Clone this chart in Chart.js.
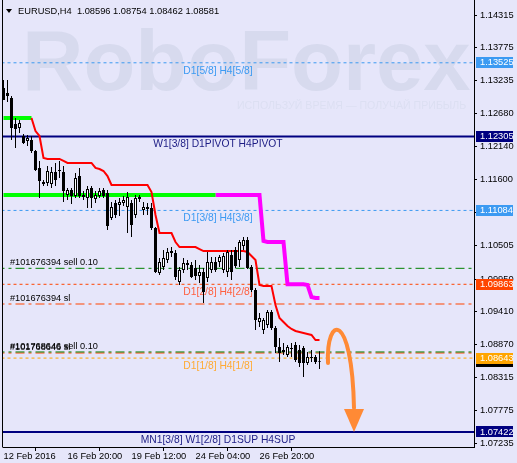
<!DOCTYPE html>
<html><head><meta charset="utf-8">
<script src="https://cdn.jsdelivr.net/npm/chart.js@4.4.1/dist/chart.umd.min.js"></script>
<style>html,body{margin:0;padding:0;background:#E6E6FA;overflow:hidden}canvas{display:block}</style>
</head><body><canvas id="c" width="517" height="463"></canvas>
<script>
// ---- data ----
const symbolTitle = 'EURUSD,H4';
const lastBarOHLC = ['1.08596', '1.08754', '1.08462', '1.08581'];

const opens = [1.13108,1.13025,1.12943,1.12513,1.12447,1.12315,1.12232,1.12249,1.12067,1.11786,
1.11554,1.11538,1.11521,1.11720,1.11753,1.11720,1.11339,1.11422,1.11323,1.11653,
1.11339,1.11290,1.11455,1.11273,1.11323,1.11422,1.11372,1.10959,1.11207,1.11174,
1.11207,1.11141,1.11207,1.11009,1.11306,1.11091,1.11141,1.11124,1.10794,1.10050,
1.10149,1.10265,1.10413,1.10380,1.09901,1.10099,1.10215,1.10182,1.10132,1.10000,
1.10066,1.09967,1.10099,1.10232,1.10232,1.10099,1.10066,1.10347,1.10430,1.10265,
1.10496,1.10595,1.10149,1.09769,1.09240,1.09107,1.09190,1.09405,1.09140,1.08826,
1.08744,1.08694,1.08810,1.08860,1.08777,1.08810,1.08562,1.08661,1.08661,1.08596];
const highs = [1.13240,1.13240,1.12976,1.12612,1.12579,1.12348,1.12331,1.12315,1.12083,1.11902,
1.11587,1.11819,1.11802,1.11869,1.11902,1.11819,1.11455,1.11455,1.11703,1.11786,
1.11406,1.11488,1.11488,1.11406,1.11455,1.11455,1.11422,1.11224,1.11257,1.11290,
1.11323,1.11389,1.11257,1.11339,1.11339,1.11224,1.11207,1.11207,1.10810,1.10298,
1.10430,1.10463,1.10479,1.10430,1.10149,1.10298,1.10265,1.10232,1.10265,1.10182,
1.10132,1.10397,1.10314,1.10314,1.10347,1.10380,1.10430,1.10430,1.10479,1.10595,
1.10645,1.10645,1.10182,1.09802,1.09388,1.09306,1.09438,1.09438,1.09173,1.08975,
1.08892,1.08860,1.08892,1.08909,1.08860,1.08843,1.08744,1.08777,1.08694,1.08754];
const lows = [1.12910,1.12877,1.12249,1.12116,1.12364,1.12183,1.12149,1.12033,1.11736,1.11290,
1.11488,1.11488,1.11455,1.11488,1.11620,1.11224,1.11257,1.11191,1.11290,1.11290,
1.11257,1.11124,1.11124,1.11207,1.11290,1.11290,1.10761,1.10926,1.10959,1.10991,
1.11158,1.10711,1.10645,1.10959,1.11224,1.11009,1.11009,1.10761,1.10050,1.10017,
1.10099,1.10215,1.10314,1.09934,1.09852,1.10050,1.10099,1.09967,1.09934,1.09884,
1.09554,1.09901,1.10050,1.10066,1.10149,1.10050,1.09984,1.09934,1.10132,1.10149,
1.10430,1.10116,1.09736,1.09107,1.09157,1.09041,1.09140,1.09107,1.08727,1.08578,
1.08694,1.08661,1.08661,1.08578,1.08495,1.08330,1.08529,1.08578,1.08545,1.08462];
const closes = [1.12910,1.12976,1.12447,1.12430,1.12530,1.12199,1.12282,1.12067,1.11753,1.11571,
1.11521,1.11736,1.11720,1.11587,1.11736,1.11406,1.11422,1.11323,1.11620,1.11323,
1.11306,1.11439,1.11290,1.11339,1.11406,1.11323,1.10827,1.11141,1.11009,1.11224,
1.11257,1.11306,1.10843,1.11290,1.11273,1.11141,1.11108,1.10794,1.10066,1.10232,
1.10298,1.10397,1.10380,1.09984,1.10099,1.10215,1.10182,1.09984,1.10000,1.10066,
1.09736,1.10232,1.10232,1.10099,1.10314,1.10331,1.10397,1.10066,1.10165,1.10562,
1.10595,1.10132,1.09769,1.09273,1.09306,1.09273,1.09405,1.09140,1.08826,1.08727,
1.08777,1.08826,1.08793,1.08611,1.08562,1.08562,1.08661,1.08644,1.08578,1.08581];

// red trailing line, starting at bar 7
const trailStart = 7;
const trailLine = [1.12612,1.12397,1.12315,1.11951,1.11935,1.11935,1.11935,1.11935,1.11902,
1.11869,1.11869,1.11869,1.11869,1.11869,1.11869,1.11869,1.11786,1.11769,1.11736,1.11653,
1.11504,1.11504,1.11504,1.11504,1.11504,1.11504,1.11504,1.11504,1.11504,1.11504,
1.11389,1.11009,1.10711,1.10711,1.10711,1.10711,1.10562,1.10479,1.10479,1.10479,1.10479,1.10479,
1.10446,1.10413,1.10413,1.10413,1.10413,1.10413,1.10413,1.10413,1.10413,1.10413,1.10413,1.10413,
1.10397,1.10331,1.10265,1.09852,1.09835,1.09835,1.09835,1.09521,1.09306,1.09240,1.09173,
1.09124,1.09091,1.09074,1.09058,1.09041,1.09025,1.08942,1.08942];

// lime segments: [fromBar, toBar, price]
const limeSegments = [[0, 7, 1.12612], [0, 53, 1.11339]];
// magenta line, starting at bar 53
const magentaStart = 53;
const magentaLine = [1.11339,1.11339,1.11339,1.11339,1.11339,1.11339,1.11339,1.11339,1.11339,1.11339,1.11339,1.11339,
1.10579,1.10562,1.10562,1.10562,1.10562,1.10562,
1.09863,1.09863,1.09863,1.09863,1.09863,1.09852,1.09653,1.09636,1.09636];

// Murrey-style levels
const levelPrices = [1.13525, 1.12305, 1.11084, 1.09863, 1.08643, 1.07422];
const levelTexts = ['D1[5/8] H4[5/8]', 'W1[3/8] D1PIVOT H4PIVOT', 'D1[3/8] H4[3/8]', 'D1[2/8] H4[2/8]', 'D1[1/8] H4[1/8]', 'MN1[3/8] W1[2/8] D1SUP H4SUP'];
const levelLabels = ['1.13525', '1.12305', '1.11084', '1.09863', '1.08643', '1.07422'];
const currentPrice = 1.08581;
const currentLabel = '1.08581';

// order lines
const orderPrices = [1.10127, 1.09537, 1.08744, 1.08727];
const orderTexts = ['#101676394 sell 0.10', '#101676394 sl', '#101768646 sell 0.10', '#101768646 sl'];

// forecast arrow path in (bar, price)
const arrowCurve = [[81.125, 1.08562], [80.625, 1.09355], [87.125, 1.09438], [87.625, 1.07818]];
const arrowHead = [[85.125, 1.07802], [90.125, 1.07802], [87.625, 1.07422]];

// axis ticks
const yTickValues = [1.14315,1.13775,1.13235,1.12680,1.12140,1.11600,1.11050,1.10505,1.09950,1.09410,1.08870,1.08315,1.07775,1.07235];
const xTickBars = [0, 16, 32, 48, 64];
const xTickLabels = ['12 Feb 2016', '16 Feb 20:00', '19 Feb 12:00', '24 Feb 04:00', '26 Feb 20:00'];

// ---- styles ----
const FONT = "'Liberation Sans', Arial, sans-serif";
const BG = '#E6E6FA';
const levelStyles = [
  {color:'#3C9AF2', text:'#3C9AF2', width:1, dash:[3,3], box:'#3C9AF2'},
  {color:'#000080', text:'#1C1C84', width:2, dash:[], box:'#000080'},
  {color:'#3C9AF2', text:'#3C9AF2', width:1, dash:[3,3], box:'#3C9AF2'},
  {color:'#FF4500', text:'#FF6040', width:1, dash:[3,3], box:'#FF4500'},
  {color:'#FFA500', text:'#FFAA33', width:1, dash:[3,3], box:'#FFA500'},
  {color:'#000080', text:'#1C1C84', width:2, dash:[], box:'#000080'}
];
const orderColors = ['#008000', '#FF4500', '#008000', '#FF4500'];

const datasets = [];
datasets.push({
  type:'bar', label:'bodies', order:1, grouped:false, barThickness:3, inflateAmount:0,
  data: opens.map((o,i)=>({x:i, y:[o, closes[i]]})),
  backgroundColor: opens.map((o,i)=> closes[i] > o ? '#FFFFFF' : '#000000'),
  borderColor:'#000000', borderWidth:1, borderSkipped:false
});
datasets.push({
  type:'bar', label:'wicks', order:2, grouped:false, barThickness:1, inflateAmount:0,
  data: lows.map((l,i)=>({x:i, y:[l, highs[i]]})),
  backgroundColor:'#000000', borderWidth:0
});
datasets.push({
  type:'line', label:'trail', order:5, borderColor:'#FF0000', borderWidth:2, pointRadius:0, tension:0,
  data: trailLine.map((v,k)=>({x:trailStart+k, y:v}))
});
limeSegments.forEach(s=>datasets.push({
  type:'line', order:6, borderColor:'#00FF00', borderWidth:4, pointRadius:0, borderCapStyle:'butt',
  data:[{x:s[0], y:s[2]}, {x:s[1], y:s[2]}]
}));
datasets.push({
  type:'line', order:6, borderColor:'#FF00FF', borderWidth:4, pointRadius:0, tension:0, borderJoinStyle:'miter',
  data: magentaLine.map((v,k)=>({x:magentaStart+k, y:v}))
});
levelPrices.forEach((p,k)=>datasets.push({
  type:'line', order:10, borderColor:levelStyles[k].color, borderWidth:levelStyles[k].width, borderDash:levelStyles[k].dash,
  pointRadius:0, data:[{x:-2, y:p}, {x:120, y:p}]
}));
orderPrices.forEach((p,k)=>datasets.push({
  type:'line', order:9, borderColor:orderColors[k], borderWidth:1, borderDash:[9,4,3,4],
  pointRadius:0, data:[{x:-2, y:p}, {x:120, y:p}]
}));

const overlay = {
  id:'overlay',
  beforeDraw(chart){
    const ctx = chart.ctx;
    ctx.save();
    ctx.fillStyle = BG; ctx.fillRect(0,0,chart.width,chart.height);
    ctx.fillStyle = '#D7DAEE';
    ctx.font = 'bold 85px ' + FONT; ctx.textBaseline = 'alphabetic'; ctx.textAlign = 'left';
    ctx.fillText('RoboForex', 22, 90);
    ctx.fillStyle = '#DCDFF2';
    ctx.font = '10.6px ' + FONT;
    ctx.fillText('ИСПОЛЬЗУЙ ВРЕМЯ — ПОЛУЧАЙ ПРИБЫЛЬ', 237, 109);
    ctx.restore();
  },
  beforeDatasetsDraw(chart){
    const ctx = chart.ctx, ys = chart.scales.y, ca = chart.chartArea;
    ctx.save();
    ctx.beginPath(); ctx.rect(ca.left, ca.top, ca.right-ca.left, ca.bottom-ca.top); ctx.clip();
    ctx.font = '10.3px ' + FONT; ctx.textAlign = 'center'; ctx.textBaseline = 'middle';
    levelPrices.forEach((p,k)=>{
      ctx.fillStyle = levelStyles[k].text;
      ctx.fillText(levelTexts[k], 218, ys.getPixelForValue(p) + 8);
    });
    ctx.font = '9.2px ' + FONT; ctx.textAlign = 'left'; ctx.fillStyle = '#000';
    orderPrices.forEach((p,k)=>{
      ctx.fillText(orderTexts[k], 10, ys.getPixelForValue(p) - 5.5);
    });
    ctx.restore();
  },
  afterDatasetsDraw(chart){
    const ctx = chart.ctx, xs = chart.scales.x, ys = chart.scales.y;
    const P = a => [xs.getPixelForValue(a[0]), ys.getPixelForValue(a[1])];
    const c = arrowCurve.map(P), h = arrowHead.map(P);
    ctx.save();
    ctx.strokeStyle = '#FF8A35'; ctx.lineWidth = 4; ctx.lineCap = 'round';
    ctx.beginPath(); ctx.moveTo(c[0][0], c[0][1]);
    ctx.bezierCurveTo(c[1][0], c[1][1], c[2][0], c[2][1], c[3][0], c[3][1]);
    ctx.stroke();
    ctx.fillStyle = '#FF8A35';
    ctx.beginPath(); ctx.moveTo(h[0][0], h[0][1]); ctx.lineTo(h[1][0], h[1][1]); ctx.lineTo(h[2][0], h[2][1]); ctx.closePath(); ctx.fill();
    ctx.restore();
  },
  afterDraw(chart){
    const ctx = chart.ctx, ys = chart.scales.y, ca = chart.chartArea;
    ctx.save();
    // left frame
    ctx.strokeStyle = '#000'; ctx.lineWidth = 1;
    ctx.beginPath(); ctx.moveTo(ca.left - 0.5, 0); ctx.lineTo(ca.left - 0.5, ca.bottom + 0.5); ctx.stroke();
    // price boxes on the axis
    ctx.font = '9.3px ' + FONT; ctx.textBaseline = 'middle'; ctx.textAlign = 'left';
    const box = (p, col, txt) => {
      const y = ys.getPixelForValue(p);
      ctx.fillStyle = col; ctx.fillRect(ca.right + 2, Math.round(y - 5.5), 37, 11);
      ctx.fillStyle = '#FFFFFF'; ctx.fillText(txt, ca.right + 6, y);
    };
    box(currentPrice, '#000000', currentLabel);
    [0,1,2,3,5,4].forEach(k => box(levelPrices[k], levelStyles[k].box, levelLabels[k]));
    // header
    ctx.fillStyle = '#000';
    ctx.beginPath(); ctx.moveTo(6, 9); ctx.lineTo(12, 9); ctx.lineTo(9, 13); ctx.closePath(); ctx.fill();
    ctx.font = '9.3px ' + FONT; ctx.textBaseline = 'middle';
    ctx.fillText(symbolTitle + '  ' + lastBarOHLC.join(' '), 18, 11);
    ctx.restore();
  }
};

new Chart(document.getElementById('c'), {
  type:'bar',
  data:{datasets},
  options:{
    responsive:false, animation:false, devicePixelRatio:1, events:[],
    layout:{padding:{left:3, top:0, right:0, bottom:0}},
    plugins:{legend:{display:false}, tooltip:{enabled:false}},
    scales:{
      x:{
        type:'linear', min:-0.125, max:117.625, offset:false, bounds:'data',
        grid:{display:true, drawOnChartArea:false, drawTicks:true, tickLength:4, color:'#000'},
        border:{display:true, color:'#000', width:1},
        ticks:{autoSkip:false, maxRotation:0, minRotation:0, align:'start', padding:0, color:'#000',
          font:{size:9.3, family:FONT},
          callback:(v)=>{ const k = xTickBars.indexOf(v); return k >= 0 ? xTickLabels[k] : ''; }},
        afterBuildTicks:(s)=>{ s.ticks = xTickBars.map(v=>({value:v})); },
        afterFit:(s)=>{ s.height = 16; s.paddingLeft = 0; s.paddingRight = 0; }
      },
      y:{
        type:'linear', position:'right', min:1.07173, max:1.14563, bounds:'data',
        grid:{display:true, drawOnChartArea:false, drawTicks:true, tickLength:3, color:'#000'},
        border:{display:true, color:'#000', width:1},
        ticks:{autoSkip:false, padding:3, color:'#000', font:{size:9.3, family:FONT},
          callback:(v)=> Number(v).toFixed(5)},
        afterBuildTicks:(s)=>{ s.ticks = yTickValues.map(v=>({value:v})); },
        afterFit:(s)=>{ s.width = 43; s.paddingTop = 0; s.paddingBottom = 0; }
      }
    }
  },
  plugins:[overlay]
});
</script></body></html>
